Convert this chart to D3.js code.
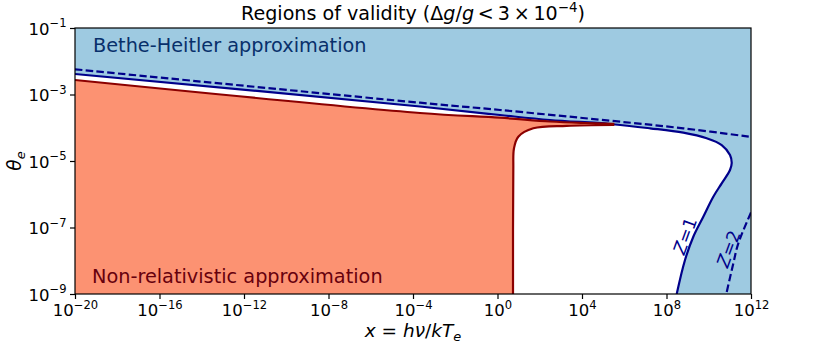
<!DOCTYPE html>
<html>
<head>
<meta charset="utf-8">
<script src="https://cdn.jsdelivr.net/npm/d3@7"></script>
<style>
  html, body { margin: 0; padding: 0; background: #fff; }
  svg { display: block; font-family: "DejaVu Sans", sans-serif; }
</style>
</head>
<body>
<svg id="chart" width="830" height="346"></svg>
<script>
// ---- data (log10 exponents) ----
const xTickExps = [-20, -16, -12, -8, -4, 0, 4, 8, 12];
const yTickExps = [-1, -3, -5, -7, -9];

// Z=1 boundary (solid dark blue): upper branch, nose, lower return branch
const z1LogX = [-20, -3.668, 0.118, 2.485, 5.325, 7.219, 8.795, 9.903, 10.613, 11.006, 11.087, 11.006, 10.613, 10.215, 9.742, 9.269, 8.876, 8.483];
const z1LogY = [-2.383, -3.361, -3.617, -3.767, -3.887, -4.017, -4.149, -4.317, -4.519, -4.820, -5.060, -5.271, -5.671, -6.074, -6.675, -7.277, -7.977, -9.0];

// Z=2 boundary (dashed dark blue): upper branch and lower branch
const z2UpLogX = [-20, -3.668, 0.118, 5.325, 8.795, 12];
const z2UpLogY = [-2.242, -3.247, -3.466, -3.788, -4.017, -4.275];
const z2LoLogX = [12, 11.4, 11.163, 10.83];
const z2LoLogY = [-6.55, -7.475, -8.077, -9.0];

// Non-relativistic boundary (dark red): upper edge to the tip, then the lower edge down to the axis
const nrUpLogX = [-20, -3.668, 0.118, 2.485, 4.14, 5.48];
const nrUpLogY = [-2.564, -3.556, -3.698, -3.812, -3.857, -3.881];
const nrLoLogX = [5.48, 3.276, 1.695, 0.985, 0.781, 0.748, 0.734];
const nrLoLogY = [-3.917, -3.941, -4.017, -4.269, -4.618, -5.271, -9.0];

const xDomain = [1e-20, 1e12];
const yDomain = [1e-9, 1e-1];

// ---- layout ----
const L = 75, R = 751, T = 28, B = 294;
const svg = d3.select("#chart");
const x = d3.scaleLog().domain(xDomain).range([L, R]);
const y = d3.scaleLog().domain(yDomain).range([B, T]);

const pts = (lx, ly) => lx.map((v, i) => [Math.pow(10, v), Math.pow(10, ly[i])]);
const line = d3.line().x(d => x(d[0])).y(d => y(d[1])).curve(d3.curveCatmullRom.alpha(0.5));
const cont = p => "L" + line(p).slice(1); // continue a path with a curve

svg.append("defs").append("clipPath").attr("id", "clip")
  .append("rect").attr("x", L).attr("y", T).attr("width", R - L).attr("height", B - T);

const plot = svg.append("g").attr("clip-path", "url(#clip)");

const z1 = pts(z1LogX, z1LogY);
const z2u = pts(z2UpLogX, z2UpLogY);
const z2l = pts(z2LoLogX, z2LoLogY);
const nrU = pts(nrUpLogX, nrUpLogY);
const nrL = pts(nrLoLogX, nrLoLogY);

// Blue region (above / right of Z=1)
const z1rev = z1.slice().reverse();
plot.append("path")
  .attr("d", line(z1rev) +
    "L" + x(xDomain[0]) + "," + y(yDomain[1]) +
    "L" + x(xDomain[1]) + "," + y(yDomain[1]) +
    "L" + x(xDomain[1]) + "," + y(yDomain[0]) + "Z")
  .attr("fill", "#9ecae1");

// Red region
const nrPath = line(nrU) + cont(nrL);
plot.append("path")
  .attr("d", nrPath + "L" + x(xDomain[0]) + "," + y(yDomain[0]) + "Z")
  .attr("fill", "#fc9272");

// Lines
plot.append("path").attr("d", line(z1)).attr("fill", "none")
  .attr("stroke", "#00008b").attr("stroke-width", 2.2);
plot.append("path").attr("d", line(z2u)).attr("fill", "none")
  .attr("stroke", "#00008b").attr("stroke-width", 2.2).attr("stroke-dasharray", "7.5,3.3");
plot.append("path").attr("d", line(z2l)).attr("fill", "none")
  .attr("stroke", "#00008b").attr("stroke-width", 2.2).attr("stroke-dasharray", "7.5,3.3");
plot.append("path").attr("d", nrPath).attr("fill", "none")
  .attr("stroke", "#8b0000").attr("stroke-width", 2.2);

// Region labels
svg.append("text").attr("x", 93).attr("y", 52).attr("font-size", 19.3)
  .attr("fill", "#08306b").text("Bethe-Heitler approximation");
svg.append("text").attr("x", 92).attr("y", 283).attr("font-size", 19.3)
  .attr("fill", "#67000d").text("Non-relativistic approximation");

function zlabel(cx, cy, n) {
  const t = svg.append("text")
    .attr("transform", `translate(${cx},${cy}) rotate(-70)`)
    .attr("text-anchor", "middle").attr("dy", "0.35em")
    .attr("font-size", 17.5).attr("fill", "#00008b");
  t.append("tspan").attr("font-style", "italic").text("Z");
  t.append("tspan").text("=" + n);
}
zlabel(685, 236, 1);
zlabel(728.5, 249, 2);

// Spines
svg.append("rect").attr("x", L).attr("y", T).attr("width", R - L).attr("height", B - T)
  .attr("fill", "none").attr("stroke", "#000").attr("stroke-width", 1.2);

function supLabel(t, e) {
  t.text(null);
  t.append("tspan").text("10");
  t.append("tspan").attr("dy", "-7.5").attr("font-size", "0.7em")
    .text((e < 0 ? "\u2212" : "") + Math.abs(e));
}

const xAxis = svg.append("g").attr("transform", `translate(0,${B})`)
  .call(d3.axisBottom(x).tickValues(xTickExps.map(e => Math.pow(10, e))).tickSize(5).tickPadding(5.5));
xAxis.select(".domain").remove();
xAxis.selectAll(".tick line").attr("stroke-width", 1.2);
xAxis.selectAll(".tick text").attr("font-size", 16.5).attr("fill", "#000")
  .attr("font-family", "DejaVu Sans")
  .each(function (d) { supLabel(d3.select(this), Math.round(Math.log10(d))); });

const yAxis = svg.append("g").attr("transform", `translate(${L},0)`)
  .call(d3.axisLeft(y).tickValues(yTickExps.map(e => Math.pow(10, e))).tickSize(5).tickPadding(3.5));
yAxis.select(".domain").remove();
yAxis.selectAll(".tick line").attr("stroke-width", 1.2);
yAxis.selectAll(".tick text").attr("font-size", 16.5).attr("fill", "#000")
  .attr("font-family", "DejaVu Sans").attr("dy", "0.38em")
  .each(function (d) { supLabel(d3.select(this), Math.round(Math.log10(d))); });

// Title
const title = svg.append("text").attr("x", (L + R) / 2).attr("y", 20)
  .attr("text-anchor", "middle").attr("font-size", 19.1).attr("fill", "#000");
title.append("tspan").text("Regions of validity (\u0394");
title.append("tspan").attr("font-style", "italic").text("g");
title.append("tspan").text("/");
title.append("tspan").attr("font-style", "italic").text("g");
title.append("tspan").text("\u2009<\u20093\u2009\u00d7\u200910");
title.append("tspan").attr("dy", "-8").attr("font-size", "0.7em").text("\u22124");
title.append("tspan").attr("dy", "8").text(")");

// X label
const xl = svg.append("text").attr("x", (L + R) / 2).attr("y", 336.5)
  .attr("text-anchor", "middle").attr("font-size", 18.5).attr("fill", "#000");
xl.append("tspan").attr("font-style", "italic").text("x");
xl.append("tspan").text(" = ");
xl.append("tspan").attr("font-style", "italic").text("h\u03bd");
xl.append("tspan").text("/");
xl.append("tspan").attr("font-style", "italic").text("kT");
xl.append("tspan").attr("font-style", "italic").attr("font-size", "0.7em").attr("dy", "4").text("e");

// Y label
const yl = svg.append("text").attr("transform", "translate(21,161) rotate(-90)")
  .attr("text-anchor", "middle").attr("font-size", 18.5).attr("fill", "#000");
yl.append("tspan").attr("font-style", "italic").text("\u03b8");
yl.append("tspan").attr("font-style", "italic").attr("font-size", "0.7em").attr("dy", "4").text("e");
</script>
</body>
</html>
